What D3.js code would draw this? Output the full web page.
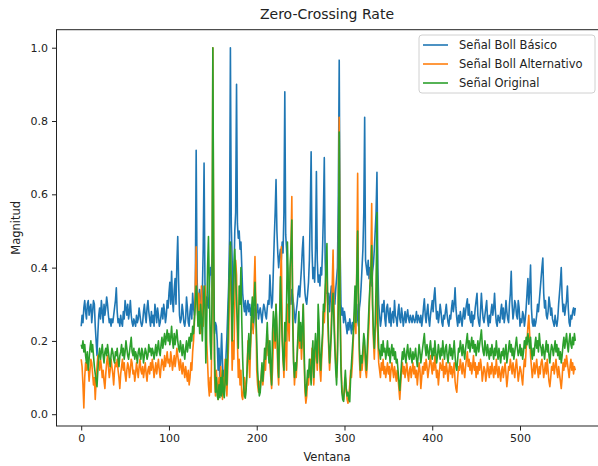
<!DOCTYPE html>
<html>
<head>
<meta charset="utf-8">
<script src="https://cdn.jsdelivr.net/npm/d3@7"></script>
<style>
  body { margin: 0; background: #fff; }
  svg { display: block; font-family: "DejaVu Sans", sans-serif; }
</style>
</head>
<body>
<div id="app"></div>
<script>
// values, one per window (0..563)
let basico = [
  0.24,0.27,0.25,0.29,0.31,0.28,0.26,0.30,0.31,0.27,0.29,0.30,0.25,0.28,0.31,0.30,0.24,0.20,0.16,0.22,
  0.27,0.29,0.26,0.31,0.28,0.25,0.30,0.27,0.29,0.32,0.30,0.27,0.25,0.26,0.24,0.26,0.25,0.27,0.29,0.31,
  0.345,0.28,0.25,0.26,0.24,0.27,0.25,0.24,0.28,0.26,0.31,0.29,0.27,0.30,0.26,0.28,0.31,0.27,0.25,0.24,
  0.26,0.25,0.24,0.27,0.25,0.26,0.29,0.27,0.25,0.24,0.25,0.28,0.30,0.27,0.25,0.29,0.31,0.28,0.26,0.24,
  0.28,0.25,0.27,0.24,0.30,0.28,0.25,0.29,0.27,0.24,0.25,0.27,0.29,0.26,0.30,0.28,0.25,0.27,0.31,0.29,
  0.33,0.36,0.30,0.39,0.31,0.28,0.34,0.37,0.30,0.41,0.485,0.36,0.27,0.25,0.26,0.30,0.28,0.25,0.24,0.26,
  0.32,0.29,0.25,0.24,0.28,0.30,0.26,0.33,0.29,0.27,0.32,0.72,0.38,0.28,0.30,0.34,0.31,0.25,0.33,0.45,
  0.685,0.36,0.28,0.32,0.30,0.29,0.35,0.40,0.38,0.42,0.45,0.30,0.22,0.25,0.24,0.20,0.12,0.18,0.09,0.15,
  0.22,0.14,0.08,0.12,0.10,0.16,0.21,0.28,0.35,0.48,1.0,0.52,0.42,0.30,0.36,0.50,0.55,0.90,0.52,0.48,
  0.50,0.45,0.47,0.40,0.33,0.30,0.28,0.31,0.27,0.29,0.31,0.28,0.30,0.27,0.29,0.25,0.23,0.26,0.29,0.27,
  0.28,0.30,0.26,0.28,0.29,0.27,0.25,0.28,0.30,0.29,0.27,0.26,0.29,0.31,0.30,0.38,0.33,0.29,0.31,0.40,
  0.48,0.55,0.64,0.50,0.44,0.40,0.43,0.45,0.42,0.47,0.44,0.55,0.88,0.49,0.45,0.40,0.35,0.33,0.31,0.30,
  0.34,0.32,0.30,0.27,0.25,0.28,0.30,0.33,0.35,0.32,0.36,0.40,0.45,0.485,0.38,0.33,0.31,0.30,0.33,0.36,
  0.42,0.55,0.716,0.45,0.37,0.40,0.36,0.45,0.662,0.42,0.36,0.38,0.35,0.40,0.38,0.45,0.55,0.70,0.42,0.33,
  0.35,0.30,0.33,0.28,0.32,0.35,0.30,0.36,0.33,0.30,0.34,0.37,0.40,0.60,0.966,0.45,0.30,0.27,0.29,0.25,
  0.28,0.26,0.24,0.22,0.25,0.23,0.26,0.24,0.22,0.25,0.23,0.26,0.24,0.28,0.30,0.26,0.24,0.29,0.31,0.35,
  0.40,0.45,0.55,0.81,0.42,0.40,0.38,0.42,0.37,0.40,0.38,0.35,0.39,0.41,0.45,0.50,0.55,0.66,0.40,0.30,
  0.27,0.24,0.26,0.30,0.28,0.31,0.26,0.24,0.29,0.30,0.27,0.25,0.29,0.24,0.27,0.28,0.25,0.31,0.27,0.26,
  0.24,0.28,0.30,0.26,0.25,0.29,0.27,0.24,0.26,0.28,0.25,0.27,0.285,0.26,0.25,0.27,0.26,0.25,0.27,0.26,
  0.25,0.26,0.28,0.25,0.27,0.26,0.25,0.27,0.24,0.26,0.29,0.315,0.27,0.25,0.28,0.30,0.26,0.24,0.27,0.29,
  0.31,0.28,0.32,0.345,0.30,0.26,0.28,0.25,0.27,0.30,0.28,0.25,0.24,0.27,0.26,0.28,0.30,0.27,0.25,0.24,
  0.27,0.26,0.29,0.31,0.28,0.30,0.345,0.29,0.26,0.24,0.27,0.25,0.28,0.26,0.24,0.27,0.29,0.26,0.28,0.30,
  0.315,0.27,0.30,0.26,0.25,0.28,0.24,0.27,0.26,0.29,0.31,0.33,0.27,0.25,0.24,0.28,0.33,0.29,0.26,0.25,
  0.27,0.29,0.31,0.26,0.24,0.27,0.25,0.28,0.30,0.27,0.29,0.33,0.28,0.25,0.24,0.27,0.26,0.25,0.28,0.30,
  0.26,0.29,0.25,0.27,0.31,0.28,0.26,0.25,0.30,0.33,0.39,0.30,0.26,0.28,0.31,0.30,0.27,0.26,0.31,0.29,
  0.24,0.26,0.25,0.28,0.27,0.24,0.26,0.29,0.33,0.37,0.30,0.34,0.407,0.29,0.25,0.24,0.26,0.24,0.25,0.27,
  0.30,0.28,0.31,0.34,0.37,0.40,0.426,0.33,0.29,0.31,0.27,0.26,0.28,0.32,0.30,0.27,0.29,0.26,0.25,0.24,
  0.27,0.25,0.24,0.26,0.30,0.33,0.36,0.40,0.32,0.28,0.30,0.27,0.29,0.31,0.35,0.29,0.25,0.24,0.27,0.26,
  0.28,0.29,0.27,0.29
];

let alternativo = [
  0.15,0.13,0.08,0.017,0.10,0.14,0.12,0.15,0.13,0.09,0.12,0.15,0.14,0.11,0.08,0.10,0.04,0.09,0.13,0.16,
  0.14,0.12,0.15,0.13,0.10,0.12,0.09,0.07,0.11,0.14,0.16,0.13,0.10,0.12,0.15,0.13,0.11,0.08,0.12,0.14,
  0.13,0.15,0.12,0.10,0.07,0.11,0.13,0.15,0.12,0.14,0.11,0.09,0.12,0.14,0.13,0.10,0.12,0.15,0.14,0.11,
  0.12,0.09,0.11,0.14,0.12,0.10,0.13,0.15,0.12,0.11,0.13,0.10,0.12,0.14,0.11,0.09,0.12,0.13,0.11,0.14,
  0.12,0.15,0.13,0.10,0.12,0.14,0.11,0.13,0.15,0.12,0.10,0.13,0.15,0.14,0.12,0.16,0.13,0.15,0.17,0.14,
  0.15,0.13,0.17,0.15,0.12,0.14,0.16,0.13,0.15,0.18,0.16,0.14,0.12,0.15,0.13,0.11,0.14,0.12,0.10,0.13,
  0.11,0.09,0.12,0.08,0.10,0.14,0.12,0.17,0.20,0.25,0.35,0.457,0.30,0.26,0.33,0.29,0.22,0.35,0.27,0.24,
  0.30,0.35,0.28,0.20,0.14,0.08,0.05,0.10,0.06,0.25,1.0,0.40,0.10,0.05,0.12,0.08,0.04,0.10,0.06,0.13,
  0.08,0.04,0.10,0.06,0.15,0.09,0.05,0.12,0.20,0.35,0.46,0.30,0.12,0.20,0.15,0.30,0.42,0.38,0.20,0.10,
  0.15,0.08,0.12,0.05,0.04,0.07,0.10,0.05,0.08,0.12,0.20,0.15,0.10,0.18,0.25,0.30,0.22,0.35,0.43,0.30,
  0.12,0.08,0.06,0.09,0.07,0.10,0.13,0.08,0.11,0.15,0.12,0.18,0.22,0.16,0.20,0.14,0.10,0.07,0.12,0.20,
  0.25,0.18,0.30,0.22,0.12,0.08,0.20,0.35,0.457,0.25,0.15,0.10,0.22,0.18,0.12,0.30,0.25,0.20,0.35,0.45,
  0.594,0.30,0.15,0.08,0.12,0.10,0.15,0.20,0.25,0.18,0.22,0.15,0.20,0.30,0.15,0.06,0.03,0.05,0.10,0.08,
  0.12,0.15,0.10,0.18,0.13,0.08,0.14,0.20,0.16,0.12,0.25,0.18,0.12,0.09,0.15,0.20,0.28,0.25,0.30,0.38,
  0.42,0.25,0.18,0.12,0.16,0.25,0.35,0.448,0.30,0.20,0.14,0.10,0.18,0.35,0.81,0.30,0.15,0.08,0.05,0.04,
  0.06,0.10,0.07,0.04,0.03,0.05,0.08,0.12,0.10,0.14,0.20,0.25,0.30,0.22,0.40,0.657,0.30,0.15,0.10,0.14,
  0.12,0.15,0.20,0.18,0.12,0.10,0.14,0.20,0.25,0.35,0.40,0.575,0.30,0.20,0.15,0.22,0.25,0.45,0.20,0.14,
  0.12,0.10,0.14,0.12,0.15,0.11,0.13,0.10,0.12,0.14,0.11,0.13,0.09,0.12,0.14,0.12,0.10,0.13,0.11,0.09,
  0.12,0.10,0.07,0.04,0.08,0.12,0.14,0.11,0.13,0.10,0.12,0.14,0.11,0.09,0.12,0.13,0.10,0.12,0.14,0.11,
  0.13,0.10,0.12,0.08,0.11,0.14,0.12,0.07,0.10,0.13,0.11,0.14,0.12,0.15,0.13,0.10,0.12,0.14,0.16,0.13,
  0.11,0.14,0.12,0.16,0.13,0.10,0.12,0.08,0.11,0.14,0.13,0.12,0.15,0.10,0.13,0.11,0.14,0.12,0.09,0.12,
  0.14,0.11,0.13,0.10,0.12,0.14,0.09,0.07,0.06,0.10,0.13,0.12,0.15,0.13,0.11,0.14,0.12,0.10,0.13,0.15,
  0.17,0.13,0.15,0.12,0.14,0.11,0.13,0.16,0.12,0.14,0.10,0.13,0.11,0.14,0.12,0.15,0.13,0.09,0.11,0.13,
  0.12,0.09,0.11,0.14,0.12,0.10,0.13,0.11,0.14,0.12,0.10,0.13,0.11,0.15,0.12,0.10,0.13,0.11,0.09,0.12,
  0.13,0.10,0.12,0.14,0.11,0.075,0.10,0.13,0.12,0.15,0.13,0.11,0.14,0.12,0.10,0.13,0.15,0.12,0.09,0.11,
  0.13,0.12,0.10,0.08,0.12,0.15,0.13,0.18,0.20,0.24,0.27,0.22,0.16,0.13,0.10,0.12,0.14,0.11,0.13,0.15,
  0.12,0.10,0.13,0.11,0.14,0.15,0.13,0.10,0.12,0.14,0.11,0.15,0.12,0.09,0.075,0.10,0.13,0.12,0.14,0.11,
  0.13,0.15,0.12,0.10,0.13,0.11,0.09,0.07,0.10,0.14,0.12,0.15,0.13,0.16,0.14,0.12,0.10,0.13,0.15,0.12,
  0.14,0.11,0.13,0.12
];

let original = [
  0.19,0.18,0.20,0.17,0.19,0.16,0.14,0.17,0.12,0.15,0.18,0.20,0.17,0.19,0.16,0.13,0.11,0.09,0.075,0.12,
  0.16,0.18,0.15,0.17,0.19,0.16,0.14,0.17,0.18,0.16,0.19,0.17,0.15,0.13,0.16,0.18,0.17,0.15,0.14,0.17,
  0.16,0.18,0.15,0.13,0.16,0.17,0.19,0.16,0.18,0.15,0.17,0.20,0.18,0.16,0.15,0.17,0.19,0.21,0.17,0.16,
  0.18,0.15,0.17,0.16,0.14,0.17,0.18,0.16,0.15,0.18,0.17,0.14,0.16,0.18,0.17,0.15,0.16,0.19,0.17,0.18,
  0.16,0.18,0.17,0.15,0.17,0.19,0.16,0.18,0.20,0.17,0.16,0.19,0.21,0.18,0.20,0.22,0.19,0.21,0.23,0.20,
  0.22,0.19,0.21,0.24,0.20,0.18,0.22,0.19,0.21,0.23,0.20,0.18,0.17,0.20,0.18,0.16,0.19,0.17,0.15,0.18,
  0.20,0.17,0.19,0.21,0.18,0.22,0.20,0.24,0.22,0.26,0.30,0.35,0.32,0.24,0.28,0.22,0.30,0.26,0.20,0.28,
  0.35,0.30,0.14,0.25,0.40,0.485,0.35,0.20,0.15,0.30,1.0,0.45,0.15,0.06,0.10,0.05,0.04,0.08,0.045,0.10,
  0.05,0.12,0.06,0.045,0.09,0.15,0.08,0.18,0.30,0.40,0.47,0.35,0.20,0.28,0.40,0.45,0.38,0.30,0.25,0.18,
  0.35,0.30,0.40,0.25,0.15,0.08,0.05,0.044,0.07,0.12,0.18,0.22,0.15,0.20,0.28,0.32,0.25,0.30,0.36,0.28,
  0.20,0.12,0.08,0.05,0.06,0.10,0.14,0.09,0.13,0.18,0.15,0.20,0.25,0.18,0.14,0.20,0.12,0.08,0.22,0.28,
  0.25,0.20,0.30,0.24,0.15,0.10,0.25,0.375,0.30,0.20,0.15,0.12,0.25,0.20,0.30,0.47,0.35,0.25,0.40,0.45,
  0.53,0.25,0.14,0.10,0.14,0.12,0.16,0.22,0.28,0.20,0.25,0.18,0.24,0.30,0.18,0.08,0.05,0.08,0.12,0.10,
  0.15,0.12,0.08,0.16,0.20,0.10,0.17,0.22,0.18,0.14,0.30,0.25,0.15,0.12,0.18,0.22,0.30,0.28,0.35,0.40,
  0.466,0.28,0.20,0.14,0.18,0.22,0.30,0.33,0.25,0.18,0.12,0.08,0.15,0.30,0.77,0.28,0.12,0.06,0.04,0.035,
  0.08,0.12,0.07,0.05,0.06,0.04,0.034,0.10,0.14,0.18,0.22,0.28,0.35,0.25,0.38,0.50,0.30,0.18,0.12,0.16,
  0.14,0.18,0.22,0.20,0.15,0.12,0.18,0.24,0.30,0.35,0.38,0.46,0.30,0.22,0.18,0.25,0.35,0.55,0.25,0.18,
  0.17,0.15,0.19,0.16,0.20,0.17,0.18,0.15,0.17,0.20,0.16,0.18,0.14,0.17,0.19,0.16,0.18,0.15,0.17,0.14,
  0.15,0.12,0.09,0.065,0.10,0.14,0.17,0.15,0.18,0.16,0.14,0.17,0.19,0.16,0.15,0.18,0.16,0.14,0.17,0.15,
  0.16,0.18,0.15,0.13,0.16,0.19,0.17,0.14,0.16,0.18,0.20,0.22,0.18,0.16,0.19,0.17,0.15,0.18,0.20,0.17,
  0.15,0.18,0.16,0.20,0.17,0.14,0.16,0.19,0.17,0.15,0.18,0.16,0.20,0.17,0.15,0.18,0.19,0.16,0.14,0.17,
  0.19,0.16,0.18,0.15,0.17,0.20,0.16,0.13,0.12,0.15,0.18,0.17,0.20,0.18,0.16,0.19,0.17,0.15,0.18,0.20,
  0.22,0.18,0.20,0.17,0.19,0.21,0.18,0.20,0.17,0.19,0.16,0.18,0.20,0.17,0.19,0.21,0.23,0.19,0.17,0.16,
  0.20,0.18,0.16,0.19,0.17,0.15,0.18,0.16,0.19,0.17,0.15,0.18,0.16,0.20,0.17,0.15,0.18,0.16,0.14,0.17,
  0.16,0.18,0.15,0.17,0.19,0.14,0.16,0.18,0.20,0.17,0.19,0.16,0.18,0.15,0.17,0.19,0.21,0.18,0.16,0.17,
  0.19,0.16,0.18,0.15,0.17,0.20,0.18,0.21,0.19,0.22,0.20,0.18,0.21,0.17,0.15,0.18,0.16,0.19,0.21,0.18,
  0.20,0.17,0.22,0.19,0.18,0.16,0.19,0.17,0.15,0.18,0.20,0.17,0.19,0.16,0.14,0.17,0.19,0.18,0.16,0.18,
  0.20,0.17,0.19,0.16,0.18,0.15,0.17,0.14,0.16,0.19,0.21,0.18,0.20,0.22,0.19,0.17,0.20,0.22,0.19,0.18,
  0.21,0.19,0.22,0.20
];

let seriesNames = ['Señal Boll Básico', 'Señal Boll Alternativo', 'Señal Original'];
let colors = ['#1f77b4', '#ff7f0e', '#2ca02c'];
let yTicks = [0, 0.2, 0.4, 0.6, 0.8, 1.0];
let xTicks = [0, 100, 200, 300, 400, 500];

let series = [basico, alternativo, original];

let W = 598, H = 466;
let margin = { top: 29.7, left: 56.5, bottom: 40, right: -2 };
let w = W - margin.left - margin.right;
let h = H - margin.top - margin.bottom;

let n = basico.length;
let allVals = [].concat(basico, alternativo, original);
let yMin = d3.min(allVals), yMax = d3.max(allVals);
let yPad = (yMax - yMin) * 0.05;
let xPad = (n - 1) * 0.05;

let xScale = d3.scaleLinear()
  .domain([-xPad, n - 1 + xPad])
  .range([0, w]);

let yScale = d3.scaleLinear()
  .domain([yMin - yPad, yMax + yPad])
  .range([h, 0]);

let svg = d3.select('#app').append('svg')
  .attr('width', W)
  .attr('height', H);

let g = svg.append('g')
  .attr('transform', 'translate(' + margin.left + ',' + margin.top + ')');

let line = d3.line()
  .x((d, i) => xScale(i))
  .y(d => yScale(d));

g.append('g')
  .selectAll('path')
  .data(series)
  .join('path')
  .attr('fill', 'none')
  .attr('stroke', (d, i) => colors[i])
  .attr('stroke-width', 1.6)
  .attr('stroke-linejoin', 'round')
  .attr('d', line);

let yAxis = d3.axisLeft(yScale)
  .tickValues(yTicks)
  .tickFormat(d3.format('.1f'))
  .tickSize(4.5)
  .tickPadding(4);

let xAxis = d3.axisBottom(xScale)
  .tickValues(xTicks)
  .tickSize(4.5)
  .tickPadding(4);

let yg = g.append('g').attr('class', 'y axis').call(yAxis);
let xg = g.append('g').attr('class', 'x axis')
  .attr('transform', 'translate(0,' + h + ')')
  .call(xAxis);

[yg, xg].forEach(ax => {
  ax.select('.domain').remove();
  ax.selectAll('line').attr('stroke', '#222').attr('stroke-width', 1);
  ax.selectAll('text').attr('fill', '#222').style('font-size', '11px')
    .style('font-family', '"DejaVu Sans", sans-serif');
});

// frame
g.append('rect')
  .attr('x', 0).attr('y', 0)
  .attr('width', w).attr('height', h)
  .attr('fill', 'none')
  .attr('stroke', '#222')
  .attr('stroke-width', 1);

svg.append('text')
  .attr('x', 327)
  .attr('y', 19)
  .attr('text-anchor', 'middle')
  .style('font-size', '14px')
  .attr('fill', '#222')
  .text('Zero-Crossing Rate');

svg.append('text')
  .attr('x', 327)
  .attr('y', 461)
  .attr('text-anchor', 'middle')
  .style('font-size', '11.5px')
  .attr('fill', '#222')
  .text('Ventana');

svg.append('text')
  .attr('transform', 'translate(20,' + (margin.top + h / 2) + ') rotate(-90)')
  .attr('text-anchor', 'middle')
  .style('font-size', '11.5px')
  .attr('fill', '#222')
  .text('Magnitud');

// legend
let legend = svg.append('g').attr('transform', 'translate(419,35)');
legend.append('rect')
  .attr('width', 176).attr('height', 58)
  .attr('rx', 3)
  .attr('fill', 'rgba(255,255,255,0.8)')
  .attr('stroke', '#d0d0d0');

let rows = legend.selectAll('g.row')
  .data(seriesNames)
  .join('g')
  .attr('class', 'row')
  .attr('transform', (d, i) => 'translate(0,' + (10 + i * 19) + ')');

rows.append('line')
  .attr('x1', 4).attr('x2', 29)
  .attr('stroke', (d, i) => colors[i])
  .attr('stroke-width', 1.6);

rows.append('text')
  .attr('x', 40)
  .attr('dy', '0.35em')
  .style('font-size', '11.5px')
  .attr('fill', '#222')
  .text(d => d);
</script>
</body>
</html>
